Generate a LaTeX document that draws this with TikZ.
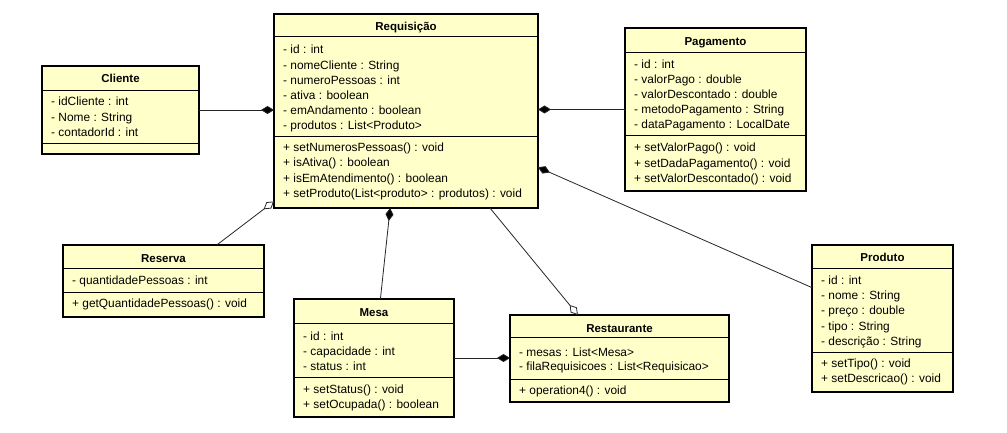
\documentclass[tikz,border=0pt]{standalone}
\usepackage{fontspec}
\setmainfont{Liberation Sans}
\usetikzlibrary{arrows.meta,calc}
\definecolor{umlfill}{RGB}{255,255,202}
\tikzset{
  cls/.style={draw=black, line width=1.8pt, fill=umlfill, inner sep=0pt, outer sep=0pt, anchor=north west},
  sepline/.style={draw=black, line width=0.9pt},
  row/.style={anchor=base west, inner sep=0pt, font=\fontsize{11.9}{13}\selectfont},
  ctitle/.style={anchor=base, inner sep=0pt, font=\fontsize{11.5}{13}\selectfont\bfseries},
  link/.style={draw=black!85, line width=0.8pt},
  comp/.style={link, {Diamond[length=13pt,width=8pt,fill=black]}-},
  aggr/.style={link, {Diamond[length=13pt,width=8pt,fill=white]}-},
}
\newcommand\classrows[5]{%
  \foreach \t [count=\i] in {#5} {\node[row] (#1\i) at (#2, {#3+#4*(\i-1)}) {\t};}}
\newcommand\classseps[3]{%
  \draw[sepline] (#1.west |- 0,#2) -- (#1.east |- 0,#2);
  \draw[sepline] (#1.west |- 0,#3) -- (#1.east |- 0,#3);}
\begin{document}
\begin{tikzpicture}[x=1pt,y=-1pt]
\fill[white] (0,0) rectangle (1007,433);
\useasboundingbox (0,0) rectangle (1007,433);

% Requisicao
\node[cls, minimum width=264pt, minimum height=194pt] (req) at (274,14) {};
\classseps{req}{36}{136}
\node[ctitle] (reqt) at (406,30.5) {Requisição};
\classrows{reqa}{283}{54}{15.2}{- id : int, - nomeCliente : String, - numeroPessoas : int, - ativa : boolean, - emAndamento : boolean, - produtos : List<Produto>}
\classrows{reqm}{283}{151.5}{15.3}{+ setNumerosPessoas() : void, + isAtiva() : boolean, + isEmAtendimento() : boolean, + setProduto(List<produto> : produtos) : void}

% Cliente
\node[cls, minimum width=157pt, minimum height=88pt] (cli) at (42,66) {};
\classseps{cli}{90}{143}
\node[ctitle] (clit) at (120.5,83) {Cliente};
\classrows{clia}{51}{106}{15.1}{- idCliente : int, - Nome : String, - contadorId : int}

% Pagamento
\node[cls, minimum width=181pt, minimum height=163pt] (pag) at (625,28) {};
\classseps{pag}{52.5}{135.5}
\node[ctitle] (pagt) at (715.5,46) {Pagamento};
\classrows{paga}{634}{68.5}{15.1}{- id : int, - valorPago : double, - valorDescontado : double, - metodoPagamento : String, - dataPagamento : LocalDate}
\classrows{pagm}{634}{152}{15.1}{+ setValorPago() : void, + setDadaPagamento() : void, + setValorDescontado() : void}

% Reserva
\node[cls, minimum width=201pt, minimum height=72pt] (res) at (63,245) {};
\classseps{res}{268.3}{292}
\node[ctitle] (rest0) at (163.5,262) {Reserva};
\classrows{resa}{72}{284.5}{15.2}{- quantidadePessoas : int}
\classrows{resm}{72}{307.7}{15.2}{+ getQuantidadePessoas() : void}

% Mesa
\node[cls, minimum width=160pt, minimum height=118pt] (mesa) at (294,299) {};
\classseps{mesa}{323}{377}
\node[ctitle] (mesat) at (374,316.7) {Mesa};
\classrows{mesaa}{303}{340}{15.1}{- id : int, - capacidade : int, - status : int}
\classrows{mesam}{303}{393}{15.1}{+ setStatus() : void, + setOcupada() : boolean}

% Restaurante
\node[cls, minimum width=219pt, minimum height=87pt] (rst) at (510,315) {};
\classseps{rst}{337}{379}
\node[ctitle] (rstt) at (619.5,332.3) {Restaurante};
\classrows{rsta}{519}{356}{14.8}{- mesas : List<Mesa>, - filaRequisicoes : List<Requisicao>}
\classrows{rstm}{519}{394}{15}{+ operation4() : void}

% Produto
\node[cls, minimum width=141pt, minimum height=147pt] (prod) at (812,245) {};
\classseps{prod}{268}{352}
\node[ctitle] (prodt) at (882.5,261.3) {Produto};
\classrows{proda}{821}{284}{15.4}{- id : int, - nome : String, - preço : double, - tipo : String, - descrição : String}
\classrows{prodm}{821}{367.3}{15.5}{+ setTipo() : void, + setDescricao() : void}

% connectors
\draw[comp] (cli.east -| req.west) -- (cli.east);
\draw[comp] (pag.west -| req.east) -- (pag.west);
\draw[comp] ($(req.north east)!0.79!(req.south east)$) -- ($(prod.north west)!0.29!(prod.south west)$);
\draw[aggr] ($(req.north west)!0.966!(req.south west)$) -- ($(res.north west)!0.765!(res.north east)$);
\draw[comp] ($(req.south west)!0.44!(req.south east)$) -- ($(mesa.north west)!0.54!(mesa.north east)$);
\draw[aggr] ($(rst.north west)!0.31!(rst.north east)$) -- ($(req.south west)!0.818!(req.south east)$);
\draw[comp] (mesa.east -| rst.west) -- (mesa.east);
\end{tikzpicture}
\end{document}
